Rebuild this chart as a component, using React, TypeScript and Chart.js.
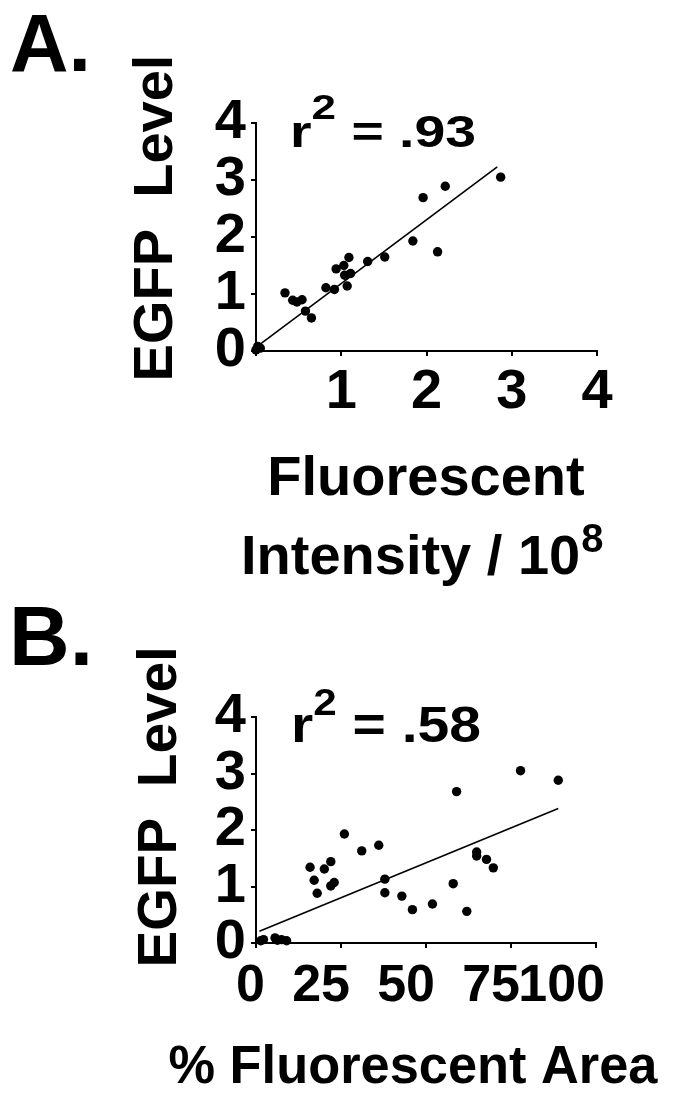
import { useEffect, useRef } from "react";
import { Chart, registerables } from "chart.js";

Chart.register(...registerables);

const FONT = '"Liberation Sans", Arial, Helvetica, sans-serif';

// Panel A: fluorescent intensity (/10^8) vs EGFP level
const intensityX = [0.0, 0.03, 0.05, 0.02, 0.34, 0.43, 0.48, 0.54, 0.58, 0.65, 0.82, 0.92, 0.94, 1.03, 1.04, 1.07, 1.09, 1.11, 1.31, 1.51, 1.84, 1.96, 2.13, 2.22, 2.87];
const intensityY = [0.02, 0.06, 0.05, 0.08, 1.02, 0.89, 0.86, 0.9, 0.7, 0.58, 1.11, 1.08, 1.44, 1.5, 1.33, 1.14, 1.64, 1.36, 1.57, 1.65, 1.93, 2.69, 1.74, 2.89, 3.05];
const fitAX = [0.03, 2.83];
const fitAY = [0.1, 3.23];
const ticksA = [0, 1, 2, 3, 4];

// Panel B: % fluorescent area vs EGFP level
const areaX = [1.4, 2.2, 5.6, 6.3, 7.5, 9.0, 15.9, 17.1, 18.0, 20.1, 22.0, 22.0, 23.0, 26.0, 31.1, 36.1, 37.9, 37.9, 42.9, 46.0, 51.9, 58.0, 59.0, 62.0, 64.9, 64.9, 67.8, 69.8, 77.8, 88.9];
const areaY = [0.04, 0.06, 0.09, 0.05, 0.06, 0.04, 1.34, 1.11, 0.88, 1.31, 1.44, 1.01, 1.07, 1.93, 1.63, 1.73, 1.13, 0.89, 0.83, 0.59, 0.69, 1.05, 2.68, 0.56, 1.61, 1.54, 1.48, 1.33, 3.05, 2.88];
const fitBX = [1.0, 88.9];
const fitBY = [0.21, 2.38];
const ticksBX = [0, 25, 50, 75, 100];
const ticksY = [0, 1, 2, 3, 4];

const W = 690;
const HA = 600; // canvas A height (overlaps top of B, both transparent)
const TOPB = 548;
const HB = 548;

function txt(ctx: CanvasRenderingContext2D, s: string, x: number, y: number, size: number, align: CanvasTextAlign = "left", sx = 1) {
  ctx.save();
  ctx.font = `bold ${size}px ${FONT}`;
  ctx.fillStyle = "#000";
  ctx.textBaseline = "alphabetic";
  ctx.textAlign = align;
  ctx.translate(x, y);
  ctx.scale(sx, 1);
  ctx.fillText(s, 0, 0);
  ctx.restore();
}

function measure(ctx: CanvasRenderingContext2D, s: string, size: number) {
  ctx.save();
  ctx.font = `bold ${size}px ${FONT}`;
  const w = ctx.measureText(s).width;
  ctx.restore();
  return w;
}

function drawR2(ctx: CanvasRenderingContext2D, left: number, width: number, base: number, size: number, supBase: number, supSize: number, value: string) {
  const wr = measure(ctx, "r", size);
  const w2 = measure(ctx, "2", supSize);
  const rest = " = " + value;
  const wrest = measure(ctx, rest, size);
  const sx = width / (wr + w2 + wrest);
  txt(ctx, "r", left, base, size, "left", sx);
  txt(ctx, "2", left + wr * sx, supBase, supSize, "left", sx);
  txt(ctx, rest, left + (wr + w2) * sx, base, size, "left", sx);
}

function rotated(ctx: CanvasRenderingContext2D, s: string, x: number, y: number, size: number) {
  ctx.save();
  ctx.font = `bold ${size}px ${FONT}`;
  ctx.fillStyle = "#000";
  ctx.textAlign = "center";
  ctx.textBaseline = "alphabetic";
  ctx.translate(x, y);
  ctx.rotate(-Math.PI / 2);
  ctx.fillText(s, 0, 0);
  ctx.restore();
}

function makeConfig(panel: "A" | "B"): any {
  const isA = panel === "A";
  const xs = isA ? intensityX : areaX;
  const ys = isA ? intensityY : areaY;
  const fx = isA ? fitAX : fitBX;
  const fy = isA ? fitAY : fitBY;
  const xTicks = isA ? ticksA : ticksBX;

  const textPlugin = {
    id: "panelText" + panel,
    afterDraw(chart: any) {
      const ctx: CanvasRenderingContext2D = chart.ctx;
      if (isA) {
        txt(ctx, "A.", 10, 71, 81);
        drawR2(ctx, 290, 186, 147, 44, 119, 35, ".93");
        rotated(ctx, "EGFP  Level", 172, 218, 56);
        txt(ctx, "Fluorescent", 426, 495, 56, "center");
        const left = 241;
        txt(ctx, "Intensity / 10", left, 574, 56);
        const w = measure(ctx, "Intensity / 10", 56);
        txt(ctx, "8", left + w + 1, 552, 40);
      } else {
        txt(ctx, "B.", 9, 117, 84);
        drawR2(ctx, 291, 190, 194, 50, 167, 37, ".58");
        rotated(ctx, "EGFP  Level", 176, 259, 55);
        const s = "% Fluorescent Area";
        const w = measure(ctx, s, 54);
        const sx = 489 / w;
        txt(ctx, s, 413 - (w * sx) / 2, 535, 54, "left", sx);
      }
    },
  };

  return {
    type: "scatter",
    data: {
      datasets: [
        {
          data: xs.map((x, i) => ({ x, y: ys[i] })),
          backgroundColor: "#000",
          borderColor: "#000",
          borderWidth: 0,
          pointRadius: 4.7,
          clip: false,
        },
        {
          type: "line",
          data: fx.map((x, i) => ({ x, y: fy[i] })),
          borderColor: "#000",
          borderWidth: 1.6,
          pointRadius: 0,
          fill: false,
          tension: 0,
          clip: false,
        },
      ],
    },
    options: {
      responsive: false,
      animation: false,
      events: [],
      devicePixelRatio: 1,
      layout: {
        padding: isA ? { left: 0, right: 93, top: 123, bottom: 0 } : { left: 0, right: 94, top: 169, bottom: 0 },
      },
      plugins: {
        legend: { display: false },
        tooltip: { enabled: false },
        title: { display: false },
      },
      scales: {
        x: {
          type: "linear",
          min: 0,
          max: isA ? 4 : 100,
          afterBuildTicks(scale: any) {
            scale.ticks = xTicks.map((v) => ({ value: v }));
          },
          afterFit(scale: any) {
            scale.height = isA ? HA - 351 : 153;
          },
          ticks: {
            color: "#000",
            font: { family: FONT, size: isA ? 56 : 52, weight: "bold" },
            padding: isA ? 3 : 7,
            autoSkip: false,
            maxRotation: 0,
            minRotation: 0,
            align: isA ? "center" : "end",
            labelOffset: isA ? 0 : 9,
            callback: (v: number) => (isA && v === 0 ? "" : String(v)),
          },
          grid: {
            display: true,
            drawOnChartArea: false,
            drawTicks: true,
            tickLength: 5,
            color: "#000",
            lineWidth: 2,
          },
          border: { display: true, color: "#000", width: 2 },
        },
        y: {
          type: "linear",
          min: 0,
          max: 4,
          afterBuildTicks(scale: any) {
            scale.ticks = ticksY.map((v) => ({ value: v }));
          },
          afterFit(scale: any) {
            scale.width = 256;
          },
          ticks: {
            color: "#000",
            font: { family: FONT, size: 56, weight: "bold" },
            padding: 5,
            autoSkip: false,
            callback: (v: number) => String(v),
          },
          grid: {
            display: true,
            drawOnChartArea: false,
            drawTicks: true,
            tickLength: 5,
            color: "#000",
            lineWidth: 2,
          },
          border: { display: true, color: "#000", width: 2 },
        },
      },
    },
    plugins: [textPlugin],
  };
}

export default function App() {
  const refA = useRef<HTMLCanvasElement | null>(null);
  const refB = useRef<HTMLCanvasElement | null>(null);

  useEffect(() => {
    const charts: Chart[] = [];
    if (refA.current) charts.push(new Chart(refA.current, makeConfig("A")));
    if (refB.current) charts.push(new Chart(refB.current, makeConfig("B")));
    return () => {
      charts.forEach((c) => c.destroy());
    };
  }, []);

  return (
    <div style={{ position: "absolute", left: 0, top: 0, width: W, height: TOPB + HB, background: "#fff" }}>
      <canvas ref={refB} width={W} height={HB} style={{ position: "absolute", left: 0, top: TOPB, width: W, height: HB, display: "block" }} />
      <canvas ref={refA} width={W} height={HA} style={{ position: "absolute", left: 0, top: 0, width: W, height: HA, display: "block" }} />
    </div>
  );
}
